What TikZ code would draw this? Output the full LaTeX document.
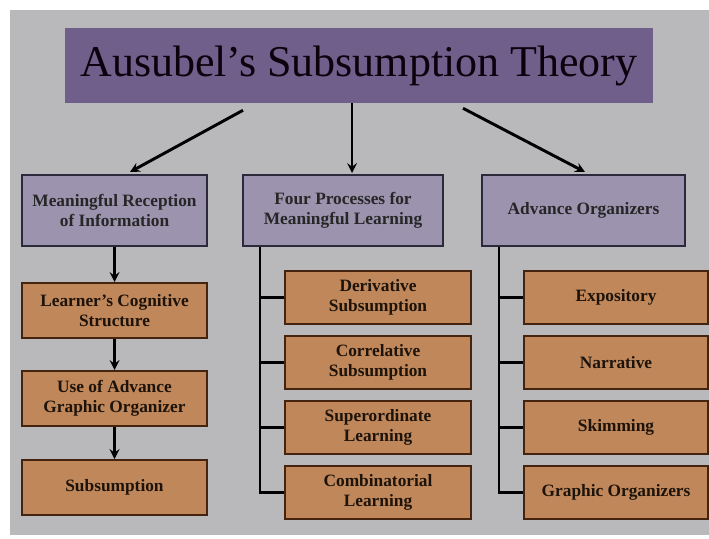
\documentclass[tikz,border=0pt]{standalone}
\usepackage{xcolor}
\usepackage{fontspec}
\setmainfont{Liberation Serif}
\usepackage{tikz}
\usetikzlibrary{shapes.geometric, arrows, positioning, calc}
\definecolor{slidegray}{HTML}{B9B9BC}
\definecolor{titlepurple}{HTML}{6F5F8A}
\definecolor{boxlilac}{HTML}{9C93AE}
\definecolor{boxedge}{HTML}{2A2A3C}
\definecolor{itemorange}{HTML}{C0875A}
\definecolor{itemedge}{HTML}{45240F}
\tikzstyle{heading} = [rectangle, minimum width=441pt, minimum height=56.25pt, text centered, fill=titlepurple, text=black!90!violet, font=\fontsize{33}{38}\selectfont]
\tikzstyle{branchhead} = [rectangle, minimum height=53.25pt, text centered, align=center, draw=boxedge, line width=1.5pt, fill=boxlilac, text=black!85, font=\fontsize{13}{15}\selectfont\bfseries]
\tikzstyle{leaf} = [rectangle, minimum height=39.75pt, text centered, align=center, draw=itemedge, line width=1.5pt, fill=itemorange, text=black!85!brown, font=\fontsize{13}{15}\selectfont\bfseries]
\tikzstyle{arrow} = [line width=2.2pt,->,>=stealth]
\tikzstyle{branch} = [line width=2.2pt]

\begin{document}
\begin{tikzpicture}[x=0.75pt, y=-0.75pt]
    \useasboundingbox (0,0) rectangle (709,538);
    \fill[white] (0,0) rectangle (709,538);
    \fill[slidegray] (10,10) rectangle (709,535);

    % Title
    \node[heading] (theory) at (359,65.5) {Ausubel’s Subsumption Theory};

    % Branches
    \node[branchhead, minimum width=138.75pt] (reception) at (114.5,210.5) {Meaningful Reception\\of Information};
    \node[branchhead, minimum width=150pt] (processes) at (343,210.5) {Four Processes for\\Meaningful Learning};
    \node[branchhead, minimum width=152.25pt] (organizers) at (583.5,210.5) {Advance Organizers};

    % Left column
    \node[leaf, minimum height=41.25pt, minimum width=138.75pt, below=26.25pt of reception] (cognitive) {Learner’s Cognitive\\Structure};
    \node[leaf, minimum height=41.25pt, minimum width=138.75pt, below=23.25pt of cognitive] (graphicorg) {Use of Advance\\Graphic Organizer};
    \node[leaf, minimum height=41.25pt, minimum width=138.75pt, below=24pt of graphicorg] (subsumption) {Subsumption};

    % Middle column
    \node[leaf, minimum width=139.5pt, below=17.25pt of processes, xshift=26.25pt] (derivative) {Derivative\\Subsumption};
    \node[leaf, minimum width=139.5pt, below=7.5pt of derivative] (correlative) {Correlative\\Subsumption};
    \node[leaf, minimum width=139.5pt, below=7.5pt of correlative] (superordinate) {Superordinate\\Learning};
    \node[leaf, minimum width=139.5pt, below=7.5pt of superordinate] (combinatorial) {Combinatorial\\Learning};

    % Right column
    \node[leaf, minimum width=138pt, below=17.25pt of organizers, xshift=24.4pt] (expository) {Expository};
    \node[leaf, minimum width=138pt, below=7.5pt of expository] (narrative) {Narrative};
    \node[leaf, minimum width=138pt, below=7.5pt of narrative] (skimming) {Skimming};
    \node[leaf, minimum width=138pt, below=7.5pt of skimming] (graphicorgs) {Graphic Organizers};

    % Arrows from the title
    \draw[arrow] ([shift={(-116,7)}]theory.south) -- ([shift={(15.5,-2)}]reception.north);
    \draw[arrow] ([shift={(-7,0)}]theory.south) -- ([shift={(9,-1)}]processes.north);
    \draw[arrow] ([shift={(104,5)}]theory.south) -- ([shift={(1.5,-2)}]organizers.north);

    % Left chain
    \draw[arrow] (reception) -- (cognitive);
    \draw[arrow] (cognitive) -- (graphicorg);
    \draw[arrow] (graphicorg) -- (subsumption);

    % Trees
    \coordinate[xshift=13.5pt] (processtrunk) at (processes.south west);
    \coordinate[xshift=13.5pt] (organizertrunk) at (organizers.south west);
    \draw[branch] (processtrunk) |- (derivative.west);
    \draw[branch] (processtrunk) |- (correlative.west);
    \draw[branch] (processtrunk) |- (superordinate.west);
    \draw[branch] (processtrunk) |- (combinatorial.west);
    \draw[branch] (organizertrunk) |- (expository.west);
    \draw[branch] (organizertrunk) |- (narrative.west);
    \draw[branch] (organizertrunk) |- (skimming.west);
    \draw[branch] (organizertrunk) |- (graphicorgs.west);

\end{tikzpicture}
\end{document}
